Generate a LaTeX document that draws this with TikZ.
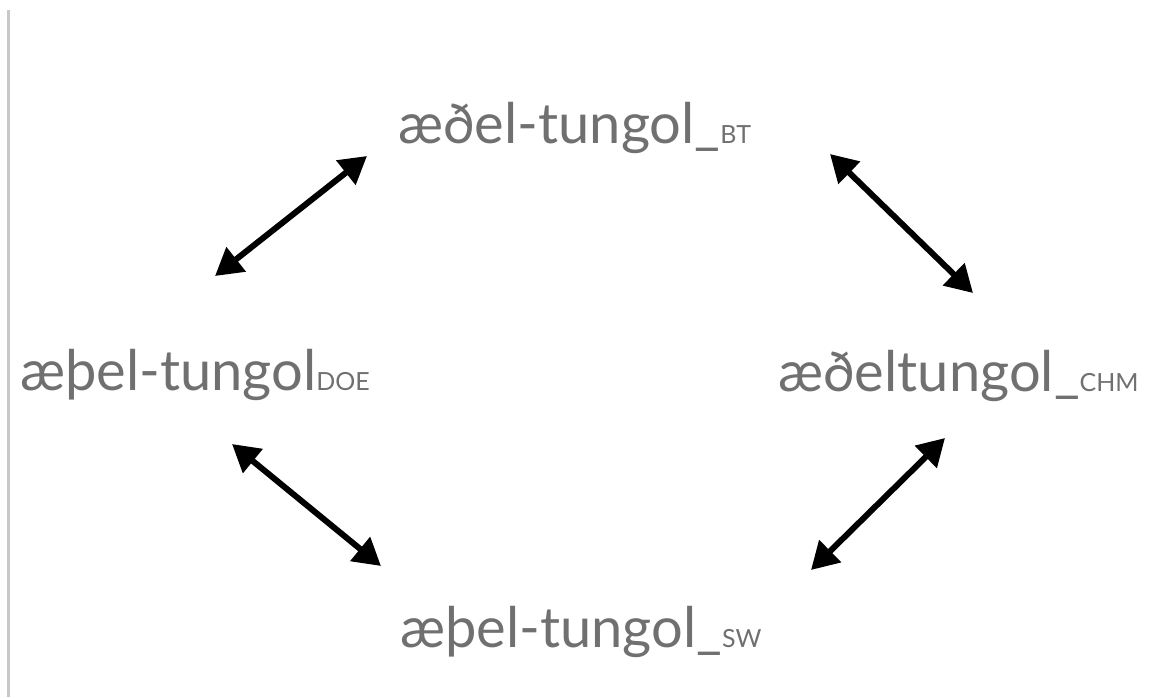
\documentclass[tikz,border=0pt]{standalone}
\usepackage{fontspec}
\setmainfont{Lato}
\usetikzlibrary{arrows.meta}
\definecolor{txtgray}{HTML}{707070}
\definecolor{rulegray}{HTML}{C8C8C8}
\tikzset{
  word/.style={anchor=base west, inner sep=0pt, text=txtgray, font=\fontsize{56}{60}\selectfont},
  link/.style={line width=6pt, {Triangle[length=27pt,width=30pt]}-{Triangle[length=27pt,width=30pt]}},
}
\newcommand{\subtag}[1]{{\fontsize{25}{25}\selectfont #1}}
\begin{document}
\begin{tikzpicture}[x=1pt,y=-1pt]
\useasboundingbox (0,0) rectangle (1167,697);
\draw[rulegray, line width=3pt] (8,10) -- (8,697);
\node[word] (bt) at (398,143) {æðel-tungol\_\subtag{BT}};
\node[word] (doe) at (20,390) {æþel-tungol\subtag{DOE}};
\node[word] (chm) at (778,391) {æðeltungol\_\subtag{CHM}};
\node[word] (sw) at (400,647) {æþel-tungol\_\subtag{SW}};
\coordinate (a1s) at (215,276); \coordinate (a1e) at (367,156);
\coordinate (a2s) at (830,154); \coordinate (a2e) at (973,293);
\coordinate (a3s) at (232,444); \coordinate (a3e) at (381,566);
\coordinate (a4s) at (811,570); \coordinate (a4e) at (945,438);
\draw[link] (a1s) -- (a1e);
\draw[link] (a2s) -- (a2e);
\draw[link] (a3s) -- (a3e);
\draw[link] (a4s) -- (a4e);
\end{tikzpicture}
\end{document}
